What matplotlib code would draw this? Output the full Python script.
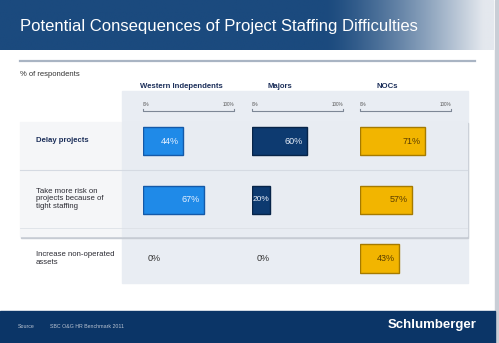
import matplotlib
matplotlib.use("Agg")
import matplotlib.pyplot as plt
import numpy as np
from matplotlib import font_manager
from matplotlib.patches import Rectangle

# survey data (% of respondents)
categories = ["Delay projects",
              "Take more risk on\nprojects because of\ntight staffing",
              "Increase non-operated\nassets"]
groups = ["Western Independents", "Majors", "NOCs"]
western = [44, 67, 0]
majors = [60, 20, 0]
nocs = [71, 57, 43]
title = "Potential Consequences of Project Staffing Difficulties"
source = "SBC O&G HR Benchmark 2011"

names = {f.name for f in font_manager.fontManager.ttflist}
narrow = "Liberation Sans Narrow" if "Liberation Sans Narrow" in names else "Liberation Sans"
plt.rcParams["font.family"] = ["Liberation Sans", "DejaVu Sans"]

W, H = 499, 343
fig = plt.figure(figsize=(W / 100, H / 100), dpi=100)
bg = fig.add_axes([0, 0, 1, 1])
bg.set_xlim(0, W)
bg.set_ylim(H, 0)
bg.axis("off")

# header band with fade to the right
grad = np.linspace(0, 1, 400)
grad = np.clip((grad - 0.66) / 0.32, 0, 1) ** 1.3
c0 = np.array([0x1b, 0x4a, 0x7e]) / 255
c1 = np.array([0xe4, 0xe8, 0xee]) / 255
img = c0[None, None, :] * (1 - grad[None, :, None]) + c1[None, None, :] * grad[None, :, None]
bg.imshow(np.repeat(img, 2, axis=0), extent=(0, 494, 50, 0), aspect="auto", zorder=1)
bg.add_patch(Rectangle((495, 0), 4, H, color="#c9ced6", zorder=1))
tsize = 12.0 if narrow == "Liberation Sans" else 13.5
bg.text(20, 27, title, color="white", fontsize=tsize, family=narrow, va="center", ha="left", zorder=3)
bg.plot([20, 475], [61, 61], color="#a9b4c3", lw=1.6, zorder=2)

bg.text(20, 74, "% of respondents", fontsize=5.5, color="#333333", va="center", zorder=3)

# grey panel behind the bars and the band around the first two rows
bg.add_patch(Rectangle((122, 91), 346, 192, color="#e9edf3", zorder=1))
bg.add_patch(Rectangle((21, 123), 447, 115, color="#c6cbd3", zorder=1.5))
bg.add_patch(Rectangle((20, 122), 102, 114, color="#f5f6f8", zorder=1.6))
bg.add_patch(Rectangle((122, 122), 345, 114, color="#e8ecf2", zorder=1.6))
bg.plot([20, 467], [170, 170], color="#d5dae2", lw=0.8, zorder=1.7)
bg.plot([20, 467], [228, 228], color="#dde1e7", lw=0.6, zorder=1.7)

row_y = [141, 199, 258.5]
for lab, y in zip(categories, row_y):
    bold = lab == categories[0]
    bg.text(36, y, lab, fontsize=5.6, color="#1c2f5a" if bold else "#2b2b33",
            fontweight="bold" if bold else "normal", va="center", ha="left",
            linespacing=1.15, zorder=3)

# footer
bg.add_patch(Rectangle((0, 311), 495, 32, color="#0b3567", zorder=1))
bg.text(18, 327, "Source", fontsize=3.8, color="#b9c3d2", va="center", zorder=3)
bg.text(50, 327, source, fontsize=3.8, color="#b9c3d2", va="center", zorder=3)
bg.text(477, 325, "Schlumberger", fontsize=9.5, color="white", fontweight="bold",
        family=narrow, va="center", ha="right", zorder=3)

# one small axes per respondent group, x in percent
x0s = [143, 252, 360]
span = 91
series = [western, majors, nocs]
face = ["#1f8ae8", "#0d3a70", "#f2b500"]
edge = ["#1459a8", "#072448", "#a57a00"]
txt = ["#e8f1ff", "#e8eef8", "#5a3d00"]
head_x = [181, 280, 387]
unit = 58.75
top, bot = -1.0, 2.4
for g, vals, x0, fc, ec, tc, hx in zip(groups, series, x0s, face, edge, txt, head_x):
    bg.text(hx, 86, g, fontsize=5.6, color="#1c2f5a", fontweight="bold", ha="center", va="center", zorder=3)
    py_top = row_y[0] + top * unit
    py_bot = row_y[0] + bot * unit
    ax = fig.add_axes([x0 / W, 1 - py_bot / H, span / W, (py_bot - py_top) / H])
    ax.set_xlim(0, 100)
    ax.set_ylim(bot, top)
    ax.axis("off")
    ax.patch.set_alpha(0)
    pos = np.arange(len(vals))
    widths = [1.0 if v > 0 else 0 for v in vals]
    ax.barh(pos, vals, height=0.48, color=fc, edgecolor=ec, linewidth=widths, zorder=2)
    for p, v in zip(pos, vals):
        if v > 0:
            # short bars: squeeze the label so it stays inside the bar
            small = v < 30
            ax.annotate(f"{v}%", (v, p), xytext=(-0.3 if small else -3, 0), textcoords="offset points",
                        ha="right", va="center", fontsize=6.0 if small else 6.5, color=tc, zorder=3)
        else:
            ax.annotate(f"{v}%", (0, p), xytext=(3, 0), textcoords="offset points",
                        ha="left", va="center", fontsize=6.5, color="#333333", zorder=3)
    # little 0-100% scale above the rows
    sy = (111 - row_y[0]) / unit
    ax.plot([0, 0, 100, 100], [sy - 0.03, sy, sy, sy - 0.03], color="#7d8796", lw=0.8, clip_on=False)
    ax.text(0, (104 - row_y[0]) / unit, "0%", fontsize=3.3, color="#555555", ha="left", va="center")
    ax.text(100, (104 - row_y[0]) / unit, "100%", fontsize=3.3, color="#555555", ha="right", va="center")

fig.savefig("out.png", dpi=100)
